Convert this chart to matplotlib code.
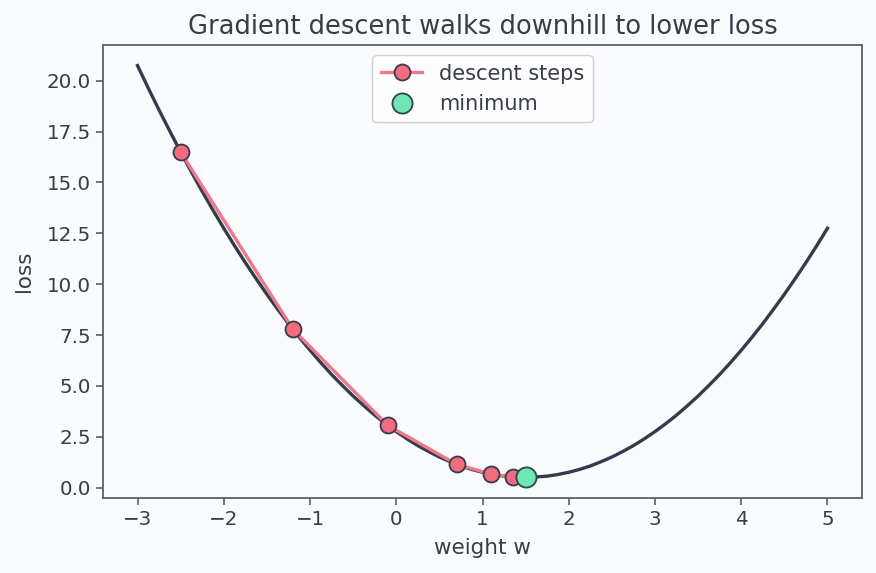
import matplotlib
matplotlib.use("Agg")
import matplotlib.pyplot as plt

# loss curve samples, on a 0.125 grid from -3 to 5
curve_w = [-3.0 + 0.125 * i for i in range(65)]
curve_loss = [20.75, 19.64, 18.56, 17.52, 16.5, 15.52, 14.56, 13.64, 12.75, 11.89,
              11.06, 10.27, 9.5, 8.77, 8.06, 7.39, 6.75, 6.14, 5.56, 5.02,
              4.5, 4.02, 3.56, 3.14, 2.75, 2.39, 2.06, 1.77, 1.5, 1.27,
              1.06, 0.89, 0.75, 0.64, 0.56, 0.52, 0.5,
              0.52, 0.56, 0.64, 0.75, 0.89, 1.06, 1.27, 1.5, 1.77,
              2.06, 2.39, 2.75, 3.14, 3.56, 4.02, 4.5, 5.02, 5.56,
              6.14, 6.75, 7.39, 8.06, 8.77, 9.5, 10.27, 11.06, 11.89, 12.75]

step_w = [-2.5, -1.2, -0.1, 0.7, 1.1, 1.35]
step_loss = [16.5, 7.79, 3.06, 1.14, 0.66, 0.52]

min_w = [1.5]
min_loss = [0.5]

TEXT = "#363d4b"
SPINE = "#5a5e6e"
BG = "#f9fbfe"

plt.rcParams["font.family"] = "DejaVu Sans"
plt.rcParams["text.color"] = TEXT
plt.rcParams["axes.labelcolor"] = TEXT
plt.rcParams["xtick.color"] = SPINE
plt.rcParams["ytick.color"] = SPINE
plt.rcParams["xtick.labelcolor"] = TEXT
plt.rcParams["ytick.labelcolor"] = TEXT

fig = plt.figure(figsize=(8.76, 5.73), dpi=100, facecolor=BG)
ax = fig.add_axes([0.1176, 0.131, 0.8664, 0.7905], facecolor=BG)

ax.plot(curve_w, curve_loss, color="#343b4a", lw=2.4, zorder=2)
ax.plot(step_w, step_loss, color="#f0788a", lw=2.4, marker="o", ms=11.5,
        mfc="#f26b7e", mec="#343b4a", mew=1.3, label="descent steps", zorder=3)
ax.plot(min_w, min_loss, ls="none", marker="o", ms=14.5, mfc="#6ee6b8",
        mec="#2a4a40", mew=1.3, label="minimum", zorder=4)

for s in ax.spines.values():
    s.set_color(SPINE)
    s.set_linewidth(1.3)
ax.tick_params(labelsize=14.3, length=5, width=1.2)

ax.set_title("Gradient descent walks downhill to lower loss", fontsize=18.5,
             color=TEXT, pad=8)
ax.set_xlabel("weight w", fontsize=15.5, labelpad=7)
ax.set_ylabel("loss", fontsize=15.5, labelpad=9)

leg = ax.legend(loc="upper center", fontsize=15, facecolor="white", framealpha=0.9)
leg.get_frame().set_edgecolor("#cccccc")

fig.savefig("out.png", dpi=100, facecolor=BG)
